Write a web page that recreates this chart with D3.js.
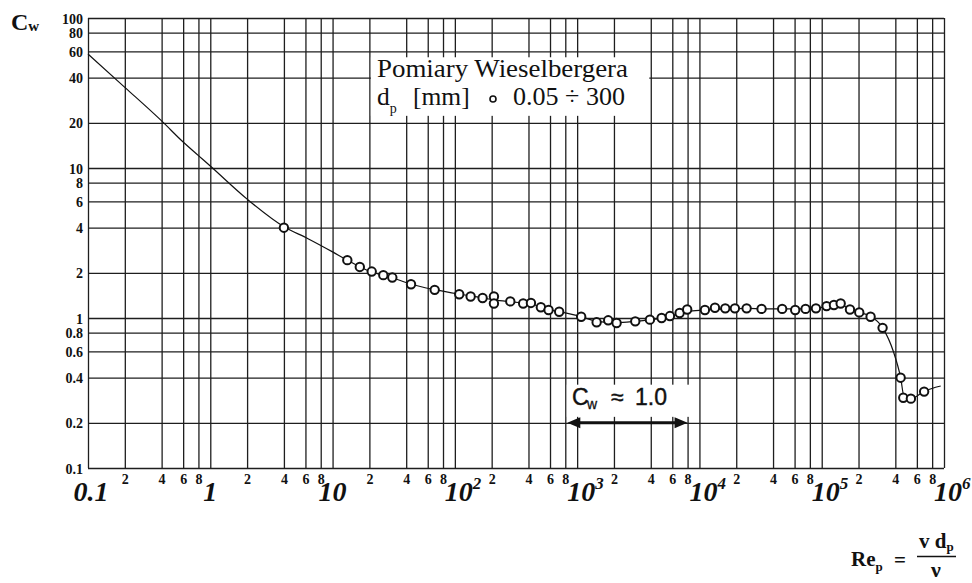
<!DOCTYPE html>
<html>
<head>
<meta charset="utf-8">
<script src="https://cdn.jsdelivr.net/npm/d3@7"></script>
<style>
body { margin:0; background:#fff; }
</style>
</head>
<body>
<svg id="chart"></svg>
<script>
// measured points (Wieselberger)
var pointRe = [4, 13.2, 16.7, 20.9, 26, 30.8, 43.8, 68.4, 108.6, 134.6, 168.6, 208.7, 208.7,
               284, 362, 419, 505, 584, 713, 1079, 1443, 1795, 2102, 2987, 3937, 4906,
               5740, 6887, 7943, 11090, 13400, 16260, 19500, 24320, 32220, 47500, 60700,
               73800, 89700, 109600, 125900, 142900, 170200, 202800, 251000, 314600,
               441900, 464500, 536000, 688000];
var pointCw = [4.0, 2.43, 2.19, 2.04, 1.93, 1.86, 1.68, 1.54, 1.44, 1.39, 1.36, 1.39, 1.25,
               1.29, 1.25, 1.26, 1.18, 1.13, 1.10, 1.02, 0.936, 0.965, 0.926, 0.95, 0.975, 1.0,
               1.03, 1.08, 1.14, 1.13, 1.17, 1.16, 1.16, 1.16, 1.15, 1.15, 1.13,
               1.15, 1.16, 1.20, 1.22, 1.25, 1.14, 1.09, 1.02, 0.86,
               0.40, 0.294, 0.29, 0.323];

// drag curve
var curveRe = [0.1, 0.2, 0.4, 0.6, 0.8, 1, 2, 4, 6.3, 10, 13.2, 20, 30, 44, 70, 110, 170, 210,
               290, 420, 580, 720, 1080, 1450, 2100, 3000, 4000, 5000, 6900, 8000, 11000,
               16000, 25000, 33000, 48000, 75000, 90000, 110000, 143000, 170000, 200000,
               250000, 315000, 385000, 442000, 472000, 540000, 690000, 940000];
var curveCw = [57.5, 34.5, 20.6, 14.9, 12.1, 10.3, 6.2, 4.06, 3.38, 2.76, 2.43, 2.05, 1.87, 1.68,
               1.54, 1.44, 1.36, 1.32, 1.28, 1.24, 1.14, 1.10, 1.02, 0.95, 0.93, 0.95, 0.975,
               1.0, 1.07, 1.11, 1.13, 1.15, 1.16, 1.15, 1.15, 1.15, 1.16, 1.19, 1.23, 1.14,
               1.09, 1.03, 0.86, 0.6, 0.40, 0.298, 0.29, 0.325, 0.352];

var yTicks = [100, 80, 60, 40, 20, 10, 8, 6, 4, 2, 1, 0.8, 0.6, 0.4, 0.2, 0.1];
var yLabels = ["100", "80", "60", "40", "20", "10", "8", "6", "4", "2", "1", "0.8", "0.6", "0.4", "0.2", "0.1"];
var decades = [0.1, 1, 10, 100, 1000, 10000, 100000, 1000000];
var decadeBase = ["0.1", "1", "10", "10", "10", "10", "10", "10"];
var decadeExp = ["", "", "", "2", "3", "4", "5", "6"];
var minorSteps = [2, 4, 6, 8];

var SERIF = "'Liberation Serif', 'Times New Roman', Times, 'DejaVu Serif', serif";
var SANS = "'Liberation Sans', Arial, Helvetica, sans-serif";

// small helper: text with inline font settings
var addText = function(target, x, y, txt, size, family)
{
    return target.append("text")
        .attr("x", x)
        .attr("y", y)
        .style("font-family", family || SERIF)
        .style("font-size", size + "px")
        .attr("fill", "#111")
        .text(txt);
}

var initGraph = function()
{
    var screen = {width:972, height:583};
    var margins = {left:88, right:28, top:18, bottom:115};
    var graph = {
        width:screen.width - margins.left - margins.right,
        height:screen.height - margins.top - margins.bottom
    };

    var svg = d3.select("#chart")
        .attr("width", screen.width)
        .attr("height", screen.height);

    var xScale = d3.scaleLog()
        .domain([0.1, 1e6])
        .range([margins.left, margins.left + graph.width]);
    var yScale = d3.scaleLog()
        .domain([0.1, 100])
        .range([margins.top + graph.height, margins.top]);

    // all vertical grid values
    var xGrid = [];
    decades.forEach(function(d, i) {
        xGrid.push(d);
        if (i < decades.length - 1) {
            minorSteps.forEach(function(m) { xGrid.push(d * m); });
        }
    });

    var xAxis = d3.axisBottom(xScale)
        .tickValues(xGrid)
        .tickSize(-graph.height)
        .tickPadding(6)
        .tickFormat(function(v) {
            var lead = Math.round(v / Math.pow(10, Math.floor(Math.log10(v) + 1e-9)));
            return minorSteps.indexOf(lead) >= 0 ? String(lead) : "";
        });

    var yAxis = d3.axisLeft(yScale)
        .tickValues(yTicks)
        .tickSize(-graph.width)
        .tickPadding(5)
        .tickFormat(function(v) { return yLabels[yTicks.indexOf(v)]; });

    var gx = svg.append("g")
        .attr("transform", "translate(0," + (margins.top + graph.height) + ")")
        .call(xAxis);
    var gy = svg.append("g")
        .attr("transform", "translate(" + margins.left + ",0)")
        .call(yAxis);

    [gx, gy].forEach(function(g) {
        g.attr("font-family", null).attr("font-size", null);
        g.select(".domain").remove();
        g.selectAll(".tick line")
            .attr("stroke", "#1e1e1e")
            .attr("stroke-width", 1.3);
        g.selectAll(".tick text")
            .attr("fill", "#111")
            .style("font-family", SERIF)
            .style("font-weight", "bold")
            .style("font-size", "14px");
    });
    gy.selectAll(".tick text").attr("dy", "0.36em");

    // white label boxes
    svg.append("rect")
        .attr("x", xScale(20) + 1.5)
        .attr("y", yScale(60) + 6)
        .attr("width", xScale(4000) - xScale(20) - 3)
        .attr("height", yScale(20) - yScale(60) - 13)
        .attr("fill", "#fff");
    svg.append("rect")
        .attr("x", xScale(800) + 1.5)
        .attr("y", yScale(0.4) + 7)
        .attr("width", xScale(10000) - xScale(800) - 3)
        .attr("height", yScale(0.2) - yScale(0.4) - 13)
        .attr("fill", "#fff");

    // curve
    var curveData = curveRe.map(function(r, i) { return {re:r, cw:curveCw[i]}; });
    var lineGenerator = d3.line()
        .x(function(d) { return xScale(d.re); })
        .y(function(d) { return yScale(d.cw); })
        .curve(d3.curveMonotoneX);
    svg.append("path")
        .datum(curveData)
        .attr("d", lineGenerator)
        .attr("fill", "none")
        .attr("stroke", "#111")
        .attr("stroke-width", 1.2);

    // points
    var pointData = pointRe.map(function(r, i) { return {re:r, cw:pointCw[i]}; });
    svg.append("g")
        .selectAll("circle")
        .data(pointData)
        .enter()
        .append("circle")
        .attr("cx", function(d) { return xScale(d.re); })
        .attr("cy", function(d) { return yScale(d.cw); })
        .attr("r", 4.2)
        .attr("fill", "#fff")
        .attr("stroke", "#111")
        .attr("stroke-width", 2);

    // decade labels
    decades.forEach(function(d, i) {
        var t;
        if (decadeExp[i] === "") {
            t = addText(svg, xScale(d) + (i === 0 ? 3 : 0), 501, decadeBase[i], 28)
                .attr("text-anchor", "middle");
        } else {
            t = addText(svg, xScale(d) - 10, 501, decadeBase[i], 28);
            t.append("tspan")
                .attr("dy", -12)
                .style("font-size", "17px")
                .text(decadeExp[i]);
        }
        t.style("font-weight", "bold").style("font-style", "italic");
    });

    // Cw axis title
    var ct = addText(svg, 11, 30, "C", 24).style("font-weight", "bold");
    ct.append("tspan").attr("dy", 1).style("font-size", "15px").text("w");

    // legend
    addText(svg, 377, 77, "Pomiary Wieselbergera", 25.5)
        .attr("textLength", 251).attr("lengthAdjust", "spacingAndGlyphs");
    var l2 = addText(svg, 377, 105, "d", 25.5);
    l2.append("tspan").attr("dy", 8).style("font-size", "14px").text("p");
    addText(svg, 413, 105, "[mm]", 25.5);
    svg.append("circle")
        .attr("cx", 493).attr("cy", 99)
        .attr("r", 3)
        .attr("fill", "#fff")
        .attr("stroke", "#111")
        .attr("stroke-width", 1.6);
    addText(svg, 513, 105, "0.05 ÷ 300", 25.5)
        .attr("textLength", 112).attr("lengthAdjust", "spacingAndGlyphs");

    // Cw ~ 1.0 annotation
    addText(svg, 572, 405, "C", 23, SANS).attr("stroke", "#111").attr("stroke-width", 0.4);
    addText(svg, 587, 409, "w", 14, SANS).attr("stroke", "#111").attr("stroke-width", 0.3);
    addText(svg, 611, 405, "≈", 23, SANS).attr("stroke", "#111").attr("stroke-width", 0.4);
    addText(svg, 635, 405, "1.0", 23, SANS).attr("stroke", "#111").attr("stroke-width", 0.4);

    var ay = yScale(0.2);
    var ax1 = xScale(800) + 2, ax2 = xScale(8000);
    svg.append("line")
        .attr("x1", ax1 + 10).attr("x2", ax2 - 10)
        .attr("y1", ay).attr("y2", ay)
        .attr("stroke", "#111").attr("stroke-width", 3);
    svg.append("path")
        .attr("d", "M" + ax1 + "," + ay + "l13,-5.5v11z")
        .attr("fill", "#111");
    svg.append("path")
        .attr("d", "M" + ax2 + "," + ay + "l-13,-5.5v11z")
        .attr("fill", "#111");

    // Reynolds number definition
    var re = addText(svg, 851, 566, "Re", 21).style("font-weight", "bold");
    re.append("tspan").attr("dy", 5).style("font-size", "13px").text("p");
    addText(svg, 894, 567, "=", 21).style("font-weight", "bold");
    var num = addText(svg, 919, 548, "v d", 21).style("font-weight", "bold");
    num.append("tspan").attr("dy", 3).style("font-size", "13px").text("p");
    svg.append("line")
        .attr("x1", 917).attr("x2", 956)
        .attr("y1", 556.5).attr("y2", 556.5)
        .attr("stroke", "#111").attr("stroke-width", 1.5);
    addText(svg, 936, 577, "ν", 22).style("font-weight", "bold").attr("text-anchor", "middle");
};

initGraph();
</script>
</body>
</html>
